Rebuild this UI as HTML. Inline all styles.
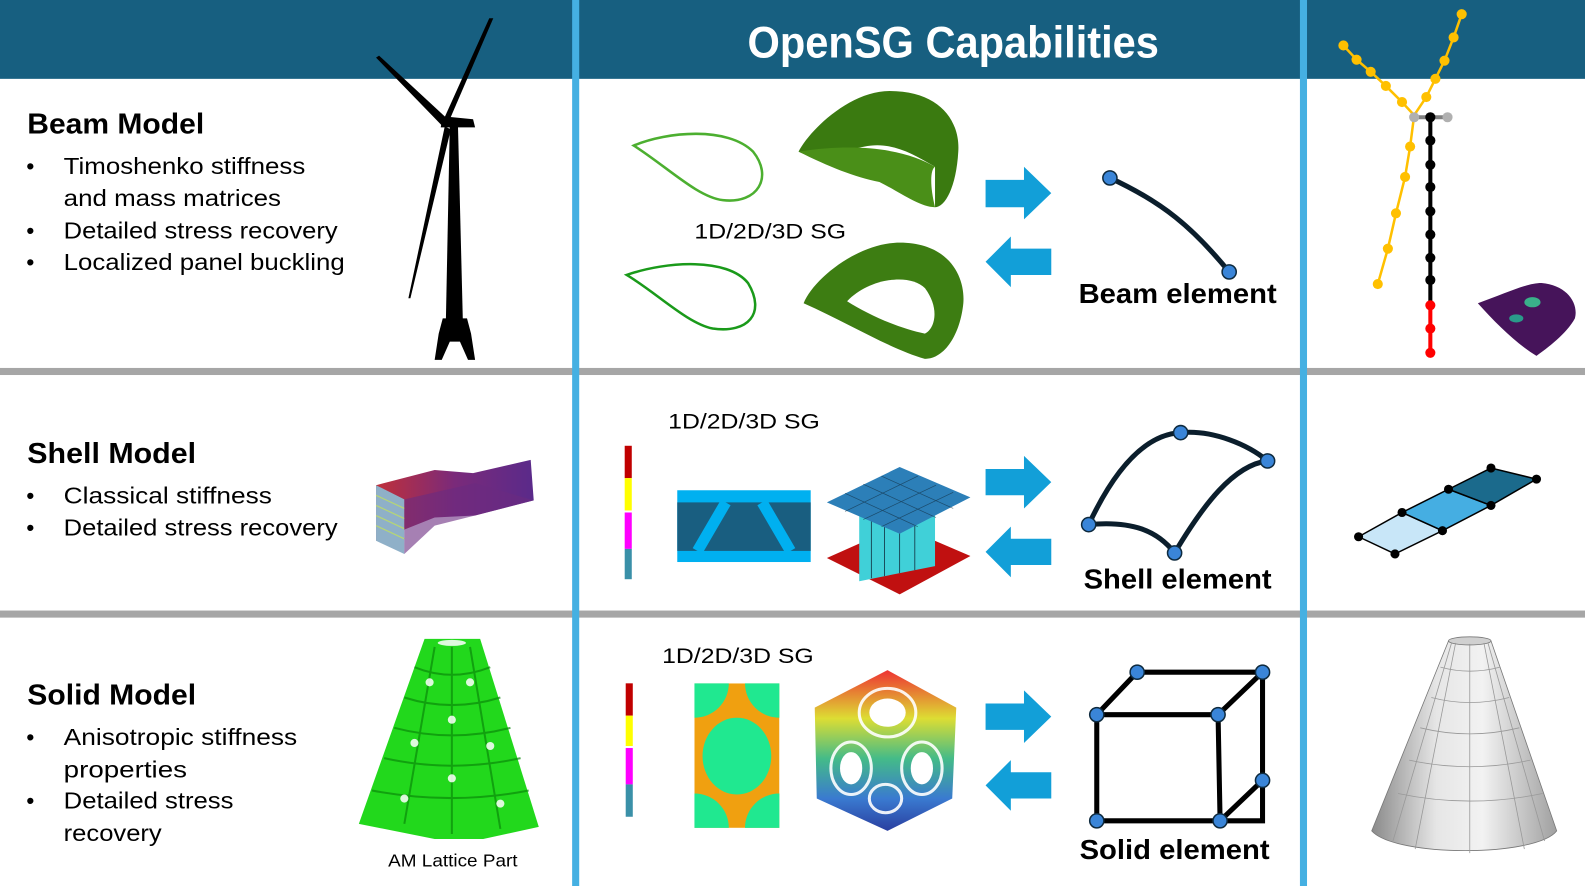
<!DOCTYPE html>
<html><head><meta charset="utf-8"><style>
html,body{margin:0;padding:0;background:#fff;overflow:hidden}
svg{display:block}
text{font-family:"Liberation Sans",sans-serif}
</style></head><body>
<svg width="1585" height="886" viewBox="0 0 1568 876.5" preserveAspectRatio="none" xmlns="http://www.w3.org/2000/svg">
<defs>
<linearGradient id="cone" x1="0" x2="1"><stop offset="0" stop-color="#8a8a8a"/><stop offset="0.35" stop-color="#e6e6e6"/><stop offset="0.6" stop-color="#f2f2f2"/><stop offset="1" stop-color="#a0a0a0"/></linearGradient>
<linearGradient id="plate" x1="0" x2="1"><stop offset="0" stop-color="#c0303a"/><stop offset="0.5" stop-color="#7a2a7a"/><stop offset="1" stop-color="#5a2a8a"/></linearGradient>
<linearGradient id="lat" x1="0" y1="0" x2="0" y2="1"><stop offset="0" stop-color="#e33"/><stop offset="0.3" stop-color="#dd3"/><stop offset="0.55" stop-color="#4b8"/><stop offset="0.8" stop-color="#3a7ad0"/><stop offset="1" stop-color="#2a3fa0"/></linearGradient>
</defs>
<rect width="1568" height="877" fill="#fff"/>
<rect x="0" y="0" width="1568" height="78" fill="#175f80"/>
<rect x="0" y="364" width="1568" height="7" fill="#a6a6a6"/>
<rect x="0" y="604" width="1568" height="7" fill="#a6a6a6"/>
<rect x="566" y="0" width="7" height="877" fill="#45b0e2"/>
<rect x="1286" y="0" width="7" height="877" fill="#45b0e2"/>
<text x="943" y="57" fill="#fff" font-size="44" font-weight="bold" text-anchor="middle" textLength="407" lengthAdjust="spacingAndGlyphs">OpenSG Capabilities</text>

<g fill="#000">
<text x="27" y="132" font-size="28" font-weight="bold" textLength="175" lengthAdjust="spacingAndGlyphs">Beam Model</text>
<g font-size="23">
<text x="26" y="172">•</text><text x="63" y="172" textLength="239" lengthAdjust="spacingAndGlyphs">Timoshenko stiffness</text>
<text x="63" y="204" textLength="215" lengthAdjust="spacingAndGlyphs">and mass matrices</text>
<text x="26" y="236">•</text><text x="63" y="236" textLength="271" lengthAdjust="spacingAndGlyphs">Detailed stress recovery</text>
<text x="26" y="267">•</text><text x="63" y="267" textLength="278" lengthAdjust="spacingAndGlyphs">Localized panel buckling</text>
</g>
<text x="27" y="458" font-size="28" font-weight="bold" textLength="167" lengthAdjust="spacingAndGlyphs">Shell Model</text>
<g font-size="23">
<text x="26" y="498">•</text><text x="63" y="498" textLength="206" lengthAdjust="spacingAndGlyphs">Classical stiffness</text>
<text x="26" y="530">•</text><text x="63" y="530" textLength="271" lengthAdjust="spacingAndGlyphs">Detailed stress recovery</text>
</g>
<text x="27" y="697" font-size="28" font-weight="bold" textLength="167" lengthAdjust="spacingAndGlyphs">Solid Model</text>
<g font-size="23">
<text x="26" y="737">•</text><text x="63" y="737" textLength="231" lengthAdjust="spacingAndGlyphs">Anisotropic stiffness</text>
<text x="63" y="769" textLength="122" lengthAdjust="spacingAndGlyphs">properties</text>
<text x="26" y="800">•</text><text x="63" y="800" textLength="168" lengthAdjust="spacingAndGlyphs">Detailed stress</text>
<text x="63" y="832" textLength="97" lengthAdjust="spacingAndGlyphs">recovery</text>
</g>
<text x="384" y="857" font-size="17" textLength="128" lengthAdjust="spacingAndGlyphs">AM Lattice Part</text>
</g>

<g fill="#000">
<polygon points="445,122 453,122 458,322 441,322"/>
<polygon points="438,115 468,118 470,126 436,126"/>
<polygon points="443,118 375,55 372,57 437,124"/>
<polygon points="445,118 488,18 484,18 439,118"/>
<polygon points="440,125 404,295 406,295 446,128"/>
<polygon points="438,315 462,315 466,330 470,356 463,356 455,338 445,338 437,356 430,356 434,330"/>
</g>

<polygon points="372,480 430,465 468,468 525,455 528,495 470,510 430,512 372,535" fill="url(#plate)"/>
<polygon points="372,480 372,535 400,548 400,494" fill="#8fb0c8"/>
<g stroke="#c0e060" stroke-width="1.2" opacity="0.8">
<line x1="372" y1="490" x2="400" y2="503"/><line x1="372" y1="500" x2="400" y2="513"/><line x1="372" y1="510" x2="400" y2="523"/><line x1="372" y1="520" x2="400" y2="533"/>
</g>
<polygon points="400,494 470,478 528,495 470,510 430,520 400,548" fill="#6a2c80" opacity="0.6"/>

<polygon points="420,632 475,632 533,818 478,830 430,830 355,815" fill="#22d81c"/>
<g stroke="#0a8a0a" stroke-width="2" fill="none" opacity="0.7">
<path d="M410,660 Q447,675 485,660 M400,690 Q447,705 495,690 M390,720 Q447,735 505,720 M380,750 Q447,765 515,750 M368,782 Q447,797 523,782"/>
<path d="M430,640 L400,815 M447,640 L447,825 M465,640 L495,820"/>
</g>
<g fill="#fff" opacity="0.85">
<ellipse cx="447" cy="636" rx="14" ry="3"/>
<circle cx="425" cy="675" r="4"/><circle cx="465" cy="675" r="4"/><circle cx="410" cy="735" r="4"/><circle cx="447" cy="712" r="4"/><circle cx="485" cy="738" r="4"/><circle cx="400" cy="790" r="4"/><circle cx="447" cy="770" r="4"/><circle cx="495" cy="795" r="4"/>
</g>

<path d="M627,144 C660,130 720,125 745,150 C765,175 750,202 715,198 C690,195 660,165 627,144 Z" fill="none" stroke="#4caf30" stroke-width="2.5"/>
<path d="M620,272 C660,258 720,255 740,280 C758,310 740,330 705,325 C680,320 650,290 620,272 Z" fill="none" stroke="#1a9a1a" stroke-width="2.5"/>
<path d="M790,150 C800,130 840,90 880,90 C930,90 950,120 948,150 C946,185 935,205 925,205 L925,165 C900,150 880,140 855,145 C830,150 810,160 790,150 Z" fill="#3a7a10"/>
<path d="M790,150 C820,165 845,175 870,180 C890,190 910,205 925,205 C920,185 920,168 925,165 C900,150 855,140 790,150 Z" fill="#4a8f18"/>
<path d="M795,300 C805,275 850,240 890,240 C940,240 955,275 953,300 C950,330 935,355 915,355 C880,345 840,320 795,300 Z" fill="#3d7d12"/>
<path d="M838,298 C860,275 900,270 915,285 C930,305 925,325 915,330 C890,325 860,312 838,298 Z" fill="#fff"/>
<text x="687" y="236" font-size="21" textLength="150" lengthAdjust="spacingAndGlyphs">1D/2D/3D SG</text>

<g fill="#129fd8">
<polygon points="975,178 1013,178 1013,165 1040,191 1013,217 1013,205 975,205"/>
<polygon points="1040,246 1000,246 1000,234 975,259 1000,284 1000,272 1040,272"/>
<polygon points="975,464 1013,464 1013,451 1040,477 1013,503 1013,490 975,490"/>
<polygon points="1040,533 1000,533 1000,521 975,546 1000,571 1000,559 1040,559"/>
<polygon points="975,696 1013,696 1013,683 1040,709 1013,735 1013,722 975,722"/>
<polygon points="1040,764 1000,764 1000,752 975,777 1000,802 1000,790 1040,790"/>
</g>

<g stroke="#0b1e2c" stroke-width="5" fill="none">
<path d="M1098,176 C1150,200 1180,225 1216,269"/>
<path d="M1077,519 C1100,470 1130,430 1168,428 C1200,425 1235,440 1254,456"/>
<path d="M1077,519 C1120,515 1145,525 1162,547"/>
<path d="M1162,547 C1190,500 1220,460 1254,456"/>
</g>
<path d="M1085,707 L1125,665 L1249,665 L1249,812 L1207,812 L1085,812 Z M1085,707 L1205,707 L1249,665 M1205,707 L1207,812 M1249,772 L1207,812" stroke="#000" stroke-width="5" fill="none"/>
<g fill="#3a85d8" stroke="#0e2a3e" stroke-width="1.5">
<circle cx="1098" cy="176" r="7"/><circle cx="1216" cy="269" r="7"/>
<circle cx="1168" cy="428" r="7"/><circle cx="1254" cy="456" r="7"/><circle cx="1077" cy="519" r="7"/><circle cx="1162" cy="547" r="7"/>
<circle cx="1085" cy="707" r="7"/><circle cx="1205" cy="707" r="7"/><circle cx="1125" cy="665" r="7"/><circle cx="1249" cy="665" r="7"/><circle cx="1085" cy="812" r="7"/><circle cx="1207" cy="812" r="7"/><circle cx="1249" cy="772" r="7"/>
</g>
<g font-size="27" font-weight="bold" fill="#000">
<text x="1067" y="300" textLength="196" lengthAdjust="spacingAndGlyphs">Beam element</text>
<text x="1072" y="582" textLength="186" lengthAdjust="spacingAndGlyphs">Shell element</text>
<text x="1068" y="850" textLength="188" lengthAdjust="spacingAndGlyphs">Solid element</text>
</g>

<text x="661" y="424" font-size="21" textLength="150" lengthAdjust="spacingAndGlyphs">1D/2D/3D SG</text>
<rect x="618" y="441" width="7" height="32" fill="#c00000"/><rect x="618" y="473" width="7" height="32" fill="#ffff00"/><rect x="618" y="507" width="7" height="36" fill="#ff00ff"/><rect x="618" y="543" width="7" height="30" fill="#3a90a8"/>
<rect x="670" y="485" width="132" height="71" fill="#00b0f0"/>
<rect x="670" y="497" width="132" height="48" fill="#195e80"/>
<g stroke="#00b0f0" stroke-width="11"><line x1="718" y1="497" x2="690" y2="545"/><line x1="754" y1="497" x2="782" y2="545"/></g>
<polygon points="818,552 890,520 960,550 890,588" fill="#c01010"/>
<polygon points="850,500 925,495 925,560 850,575" fill="#40d0d8"/>
<g stroke="#103040" stroke-width="0.8"><line x1="862" y1="500" x2="862" y2="572"/><line x1="875" y1="500" x2="875" y2="570"/><line x1="890" y1="498" x2="890" y2="567"/><line x1="905" y1="497" x2="905" y2="564"/></g>
<polygon points="818,497 890,462 960,492 890,528" fill="#2c7fb8"/>
<g stroke="#102838" stroke-width="0.7" opacity="0.6"><line x1="836" y1="488" x2="908" y2="521"/><line x1="854" y1="479" x2="926" y2="512"/><line x1="872" y1="471" x2="943" y2="503"/><line x1="836" y1="506" x2="908" y2="471"/><line x1="854" y1="514" x2="926" y2="480"/><line x1="872" y1="521" x2="943" y2="487"/></g>

<text x="655" y="656" font-size="21" textLength="150" lengthAdjust="spacingAndGlyphs">1D/2D/3D SG</text>
<rect x="619" y="676" width="7" height="32" fill="#c00000"/><rect x="619" y="708" width="7" height="30" fill="#ffff00"/><rect x="619" y="740" width="7" height="36" fill="#ff00ff"/><rect x="619" y="776" width="7" height="32" fill="#3a90a8"/>
<svg x="687" y="676" width="84" height="143" viewBox="0 0 84 143">
<rect width="84" height="143" fill="#f0a010"/>
<ellipse cx="42" cy="72" rx="34" ry="38" fill="#20e890"/>
<circle cx="0" cy="0" r="34" fill="#20e890"/><circle cx="84" cy="0" r="34" fill="#20e890"/><circle cx="0" cy="143" r="34" fill="#20e890"/><circle cx="84" cy="143" r="34" fill="#20e890"/>
</svg>
<polygon points="878,663 946,700 942,790 878,822 808,790 806,700" fill="url(#lat)"/>
<g fill="none" stroke="#fff" stroke-width="3" opacity="0.9">
<ellipse cx="878" cy="705" rx="28" ry="24"/><ellipse cx="842" cy="760" rx="20" ry="26"/><ellipse cx="912" cy="760" rx="20" ry="26"/><ellipse cx="876" cy="790" rx="16" ry="14"/>
</g>
<g fill="#fff"><ellipse cx="878" cy="705" rx="18" ry="14"/><ellipse cx="842" cy="760" rx="11" ry="16"/><ellipse cx="912" cy="760" rx="11" ry="16"/></g>

<g stroke="#ffc000" stroke-width="2.5" fill="none">
<polyline points="1329,45 1342,59 1356,71 1371,85 1387,101 1399,114"/>
<polyline points="1446,14 1438,37 1429,60 1420,78 1411,96 1399,114"/>
<polyline points="1399,114 1395,145 1390,175 1381,211 1373,246 1363,281"/>
</g>
<g fill="#ffc000">
<circle cx="1329" cy="45" r="5"/><circle cx="1342" cy="59" r="5"/><circle cx="1356" cy="71" r="5"/><circle cx="1371" cy="85" r="5"/><circle cx="1387" cy="101" r="5"/>
<circle cx="1446" cy="14" r="5"/><circle cx="1438" cy="37" r="5"/><circle cx="1429" cy="60" r="5"/><circle cx="1420" cy="78" r="5"/><circle cx="1411" cy="96" r="5"/>
<circle cx="1395" cy="145" r="5"/><circle cx="1390" cy="175" r="5"/><circle cx="1381" cy="211" r="5"/><circle cx="1373" cy="246" r="5"/><circle cx="1363" cy="281" r="5"/>
</g>
<line x1="1399" y1="116" x2="1432" y2="116" stroke="#808080" stroke-width="4"/>
<line x1="1415" y1="116" x2="1415" y2="300" stroke="#000" stroke-width="4"/>
<line x1="1415" y1="300" x2="1415" y2="349" stroke="#f00" stroke-width="4"/>
<circle cx="1399" cy="116" r="5" fill="#b0b0b0"/><circle cx="1432" cy="116" r="5" fill="#b0b0b0"/>
<g fill="#000"><circle cx="1415" cy="116" r="5"/><circle cx="1415" cy="139" r="5"/><circle cx="1415" cy="163" r="5"/><circle cx="1415" cy="185" r="5"/><circle cx="1415" cy="209" r="5"/><circle cx="1415" cy="232" r="5"/><circle cx="1415" cy="255" r="5"/><circle cx="1415" cy="277" r="5"/></g>
<g fill="#f00"><circle cx="1415" cy="302" r="5"/><circle cx="1415" cy="325" r="5"/><circle cx="1415" cy="349" r="5"/></g>
<path d="M1462,300 C1490,290 1510,280 1525,280 C1550,282 1562,300 1558,315 C1550,330 1530,345 1520,352 C1500,340 1480,320 1462,300 Z" fill="#46145a"/>
<ellipse cx="1516" cy="299" rx="8" ry="5" fill="#3ab08a"/><ellipse cx="1500" cy="315" rx="7" ry="4" fill="#2a9a8a"/>

<polygon points="1344,531 1387,507 1427,525 1380,548" fill="#c8e6f8" stroke="#000" stroke-width="1.5"/>
<polygon points="1387,507 1433,484 1475,500 1427,525" fill="#45aee2" stroke="#000" stroke-width="1.5"/>
<polygon points="1433,484 1475,463 1520,474 1475,500" fill="#1b6a8c" stroke="#000" stroke-width="1.5"/>
<g fill="#000"><circle cx="1344" cy="531" r="4.5"/><circle cx="1387" cy="507" r="4.5"/><circle cx="1427" cy="525" r="4.5"/><circle cx="1380" cy="548" r="4.5"/><circle cx="1433" cy="484" r="4.5"/><circle cx="1475" cy="500" r="4.5"/><circle cx="1475" cy="463" r="4.5"/><circle cx="1520" cy="474" r="4.5"/></g>

<path d="M1433,634 L1475,634 L1540,822 C1520,848 1380,848 1357,822 Z" fill="url(#cone)" stroke="#777" stroke-width="0.8"/>
<ellipse cx="1454" cy="634" rx="21" ry="4" fill="#d0d0d0" stroke="#777" stroke-width="0.8"/>
<g stroke="#999" stroke-width="0.8" fill="none">
<path d="M1425,660 Q1454,668 1484,660 M1416,690 Q1454,700 1493,690 M1405,720 Q1454,732 1503,720 M1394,752 Q1454,765 1514,752 M1383,785 Q1454,800 1526,785"/>
<path d="M1440,636 L1400,840 M1454,637 L1454,844 M1468,636 L1508,840 M1436,636 L1378,832 M1472,636 L1528,832"/>
</g>
</svg>
</body></html>
